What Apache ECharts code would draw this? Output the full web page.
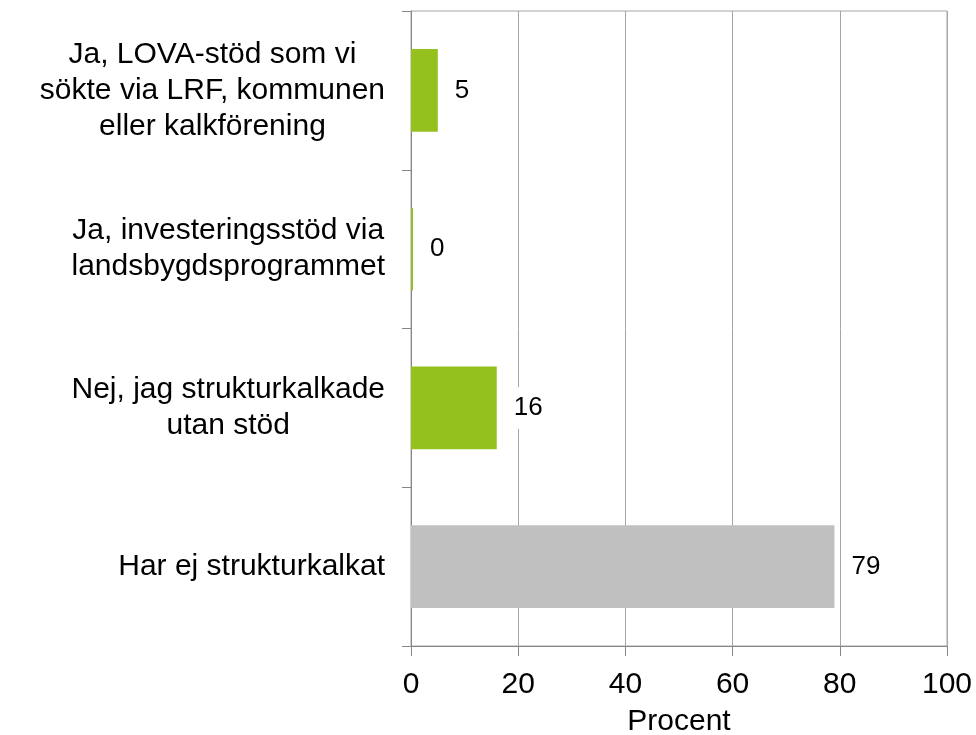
<!DOCTYPE html>
<html>
<head>
<meta charset="utf-8">
<script src="https://cdn.jsdelivr.net/npm/echarts@6/dist/echarts.min.js"></script>
<style>
  html, body { margin: 0; padding: 0; background: #fff; }
  #chart { width: 976px; height: 735px; }
</style>
</head>
<body>
<div id="chart"></div>
<script>
var categories = [
    'Ja, LOVA-stöd som vi\nsökte via LRF, kommunen\neller kalkförening',
    'Ja, investeringsstöd via\nlandsbygdsprogrammet',
    'Nej, jag strukturkalkade\nutan stöd',
    'Har ej strukturkalkat'
];
var values = [5, 0, 16, 79];
var barColors = ['#95c11f', '#95c11f', '#95c11f', '#c0c0c0'];
var xTicks = [0, 20, 40, 60, 80, 100];

var chart = echarts.init(document.getElementById('chart'));

var fontFamily = '"Liberation Sans", Arial, sans-serif';

var option = {
    animation: false,
    backgroundColor: '#fff',
    grid: {
        left: 411,
        right: 29,
        top: 11,
        bottom: 89,
        outerBoundsMode: 'none',
        containLabel: false,
        show: true,
        borderColor: '#a6a6a6',
        borderWidth: 1
    },
    xAxis: {
        type: 'value',
        min: xTicks[0],
        max: xTicks[xTicks.length - 1],
        interval: 20,
        name: 'Procent',
        nameLocation: 'middle',
        nameGap: 61,
        nameTextStyle: { color: '#000', fontSize: 30, fontFamily: fontFamily },
        axisLine: { show: true, lineStyle: { color: '#868686', width: 1 } },
        axisTick: { show: true, length: 10, lineStyle: { color: '#868686' } },
        axisLabel: { color: '#000', fontSize: 30, fontFamily: fontFamily, margin: 24 },
        splitLine: { show: true, lineStyle: { color: '#a6a6a6', width: 1 } }
    },
    yAxis: {
        type: 'category',
        inverse: true,
        data: categories,
        axisLine: { show: true, lineStyle: { color: '#868686', width: 1 } },
        axisTick: { show: true, length: 9, lineStyle: { color: '#868686' } },
        axisLabel: {
            margin: 26,
            align: 'right',
            formatter: function (v) {
                return v.split('\n').map(function (s) { return '{c|' + s + '}'; }).join('\n');
            },
            rich: {
                c: {
                    align: 'center',
                    color: '#000',
                    fontSize: 30,
                    lineHeight: 36,
                    fontFamily: fontFamily
                }
            }
        },
        splitLine: { show: false }
    },
    series: [{
        type: 'bar',
        barWidth: '52%',
        barMinHeight: 2,
        data: values.map(function (v, i) {
            return { value: v, itemStyle: { color: barColors[i] } };
        }),
        label: {
            show: true,
            position: 'right',
            distance: 12,
            color: '#000',
            fontSize: 26,
            fontFamily: fontFamily,
            backgroundColor: '#fff',
            padding: [8, 5]
        }
    }]
};

chart.setOption(option);
</script>
</body>
</html>
